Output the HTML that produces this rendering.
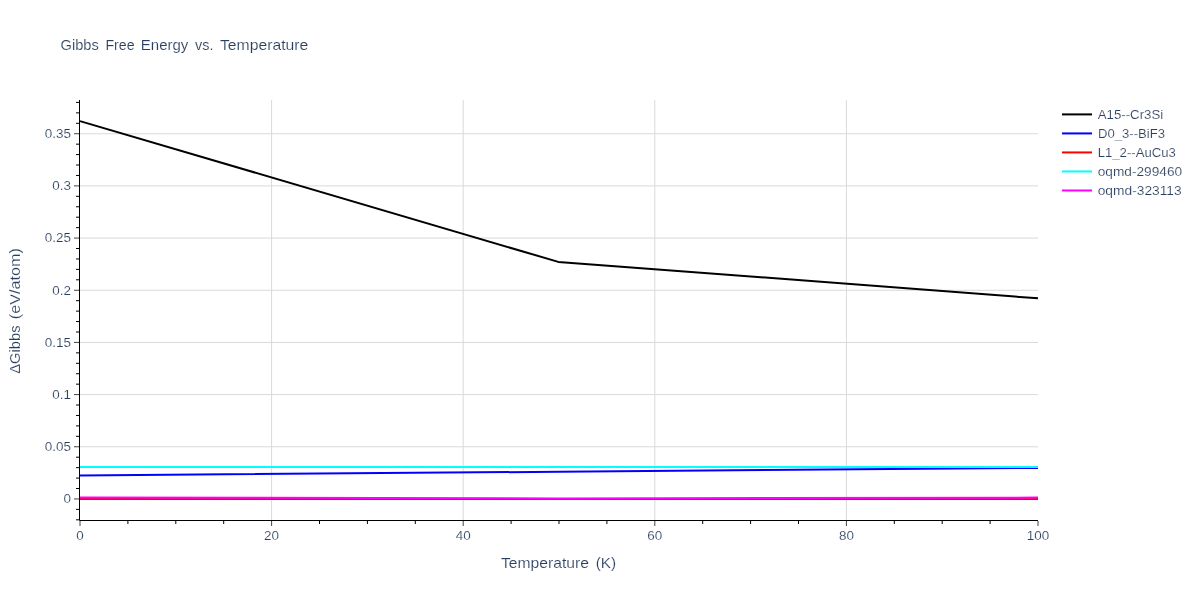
<!DOCTYPE html><html><head><meta charset="utf-8"><style>html,body{margin:0;padding:0;background:#fff;width:1200px;height:600px;overflow:hidden}svg{display:block;will-change:transform}text{font-family:"Liberation Sans",sans-serif;fill:#2a3f5f;stroke:#fff;stroke-width:0.15px}</style></head><body>
<svg width="1200" height="600" viewBox="0 0 1200 600">
<rect x="0" y="0" width="1200" height="600" fill="#fff"/>
<path d="M271.60,100V520M463.20,100V520M654.80,100V520M846.40,100V520M80,498.95H1038M80,446.77H1038M80,394.60H1038M80,342.42H1038M80,290.25H1038M80,238.07H1038M80,185.90H1038M80,133.72H1038" stroke="#d9d9d9" stroke-width="1" fill="none"/>
<polyline points="80.00,121.10 558.30,261.90 1038.00,298.30" stroke="#000000" stroke-width="2" fill="none" stroke-linejoin="round" stroke-linecap="butt"/>
<polyline points="80.00,475.40 559.00,471.75 1038.00,467.90" stroke="#0000ff" stroke-width="2" fill="none" stroke-linejoin="round" stroke-linecap="butt"/>
<polyline points="80.00,499.00 1038.00,499.00" stroke="#ff0000" stroke-width="2" fill="none" stroke-linejoin="round" stroke-linecap="butt"/>
<polyline points="80.00,467.10 1038.00,466.90" stroke="#00ffff" stroke-width="2" fill="none" stroke-linejoin="round" stroke-linecap="butt"/>
<polyline points="80.00,497.40 559.00,498.40 1038.00,497.60" stroke="#ff00ff" stroke-width="2" fill="none" stroke-linejoin="round" stroke-linecap="butt"/>
<path d="M79.5,100V520.5H1038" stroke="#000" stroke-width="1" fill="none"/>
<path d="M74,498.95H79M74,446.77H79M74,394.60H79M74,342.42H79M74,290.25H79M74,238.07H79M74,185.90H79M74,133.72H79M80.00,521V526M271.60,521V526M463.20,521V526M654.80,521V526M846.40,521V526M1038.00,521V526" stroke="#444" stroke-width="1" fill="none"/>
<path d="M76,519.82H79M76,509.38H79M76,488.51H79M76,478.08H79M76,467.64H79M76,457.21H79M76,436.34H79M76,425.90H79M76,415.47H79M76,405.03H79M76,384.16H79M76,373.73H79M76,363.29H79M76,352.86H79M76,331.99H79M76,321.55H79M76,311.12H79M76,300.68H79M76,279.81H79M76,269.38H79M76,258.94H79M76,248.51H79M76,227.64H79M76,217.20H79M76,206.77H79M76,196.34H79M76,175.46H79M76,165.03H79M76,154.59H79M76,144.16H79M76,123.29H79M76,112.86H79M76,102.42H79M127.90,521V524M175.80,521V524M223.70,521V524M319.50,521V524M367.40,521V524M415.30,521V524M511.10,521V524M559.00,521V524M606.90,521V524M702.70,521V524M750.60,521V524M798.50,521V524M894.30,521V524M942.20,521V524M990.10,521V524" stroke="#000" stroke-width="1" fill="none"/>
<text x="71" y="503.35" font-size="12.40" text-anchor="end" textLength="7.48" lengthAdjust="spacingAndGlyphs">0</text>
<text x="71" y="451.17" font-size="12.40" text-anchor="end" textLength="26.19" lengthAdjust="spacingAndGlyphs">0.05</text>
<text x="71" y="399.00" font-size="12.40" text-anchor="end" textLength="18.70" lengthAdjust="spacingAndGlyphs">0.1</text>
<text x="71" y="346.82" font-size="12.40" text-anchor="end" textLength="26.19" lengthAdjust="spacingAndGlyphs">0.15</text>
<text x="71" y="294.65" font-size="12.40" text-anchor="end" textLength="18.70" lengthAdjust="spacingAndGlyphs">0.2</text>
<text x="71" y="242.47" font-size="12.40" text-anchor="end" textLength="26.19" lengthAdjust="spacingAndGlyphs">0.25</text>
<text x="71" y="190.30" font-size="12.40" text-anchor="end" textLength="18.70" lengthAdjust="spacingAndGlyphs">0.3</text>
<text x="71" y="138.12" font-size="12.40" text-anchor="end" textLength="26.19" lengthAdjust="spacingAndGlyphs">0.35</text>
<text x="80.00" y="539.8" font-size="12.40" text-anchor="middle" textLength="7.48" lengthAdjust="spacingAndGlyphs">0</text>
<text x="271.60" y="539.8" font-size="12.40" text-anchor="middle" textLength="14.97" lengthAdjust="spacingAndGlyphs">20</text>
<text x="463.20" y="539.8" font-size="12.40" text-anchor="middle" textLength="14.97" lengthAdjust="spacingAndGlyphs">40</text>
<text x="654.80" y="539.8" font-size="12.40" text-anchor="middle" textLength="14.97" lengthAdjust="spacingAndGlyphs">60</text>
<text x="846.40" y="539.8" font-size="12.40" text-anchor="middle" textLength="14.97" lengthAdjust="spacingAndGlyphs">80</text>
<text x="1038.00" y="539.8" font-size="12.40" text-anchor="middle" textLength="22.45" lengthAdjust="spacingAndGlyphs">100</text>
<text x="60.50" y="50.10" font-size="14.60" textLength="38.25" lengthAdjust="spacingAndGlyphs">Gibbs</text>
<text x="105.40" y="50.10" font-size="14.60" textLength="29.20" lengthAdjust="spacingAndGlyphs">Free</text>
<text x="140.80" y="50.10" font-size="14.60" textLength="47.51" lengthAdjust="spacingAndGlyphs">Energy</text>
<text x="195.00" y="50.10" font-size="14.60" textLength="18.40" lengthAdjust="spacingAndGlyphs">vs.</text>
<text x="219.90" y="50.10" font-size="14.60" textLength="88.40" lengthAdjust="spacingAndGlyphs">Temperature</text>
<text x="501.00" y="567.90" font-size="14.60" textLength="88.00" lengthAdjust="spacingAndGlyphs">Temperature</text>
<text x="595.80" y="567.90" font-size="14.60" textLength="20.30" lengthAdjust="spacingAndGlyphs">(K)</text>
<text transform="translate(20.00,0) rotate(-90)" x="-373.75" y="0" font-size="14.60" textLength="48.35" lengthAdjust="spacingAndGlyphs">ΔGibbs</text>
<text transform="translate(20.00,0) rotate(-90)" x="-319.20" y="0" font-size="14.60" textLength="71.20" lengthAdjust="spacingAndGlyphs">(eV/atom)</text>
<path d="M1062,114.40H1092" stroke="#000000" stroke-width="2"/>
<text x="1097.70" y="118.75" font-size="12.40" textLength="65.60" lengthAdjust="spacingAndGlyphs">A15--Cr3Si</text>
<path d="M1062,133.42H1092" stroke="#0000ff" stroke-width="2"/>
<text x="1098.10" y="137.77" font-size="12.40" textLength="66.90" lengthAdjust="spacingAndGlyphs">D0_3--BiF3</text>
<path d="M1062,152.44H1092" stroke="#ff0000" stroke-width="2"/>
<text x="1097.70" y="156.79" font-size="12.40" textLength="78.10" lengthAdjust="spacingAndGlyphs">L1_2--AuCu3</text>
<path d="M1062,171.46H1092" stroke="#00ffff" stroke-width="2"/>
<text x="1097.70" y="175.81" font-size="12.40" textLength="84.41" lengthAdjust="spacingAndGlyphs">oqmd-299460</text>
<path d="M1062,190.48H1092" stroke="#ff00ff" stroke-width="2"/>
<text x="1097.70" y="194.83" font-size="12.40" textLength="84.00" lengthAdjust="spacingAndGlyphs">oqmd-323113</text>
</svg></body></html>
